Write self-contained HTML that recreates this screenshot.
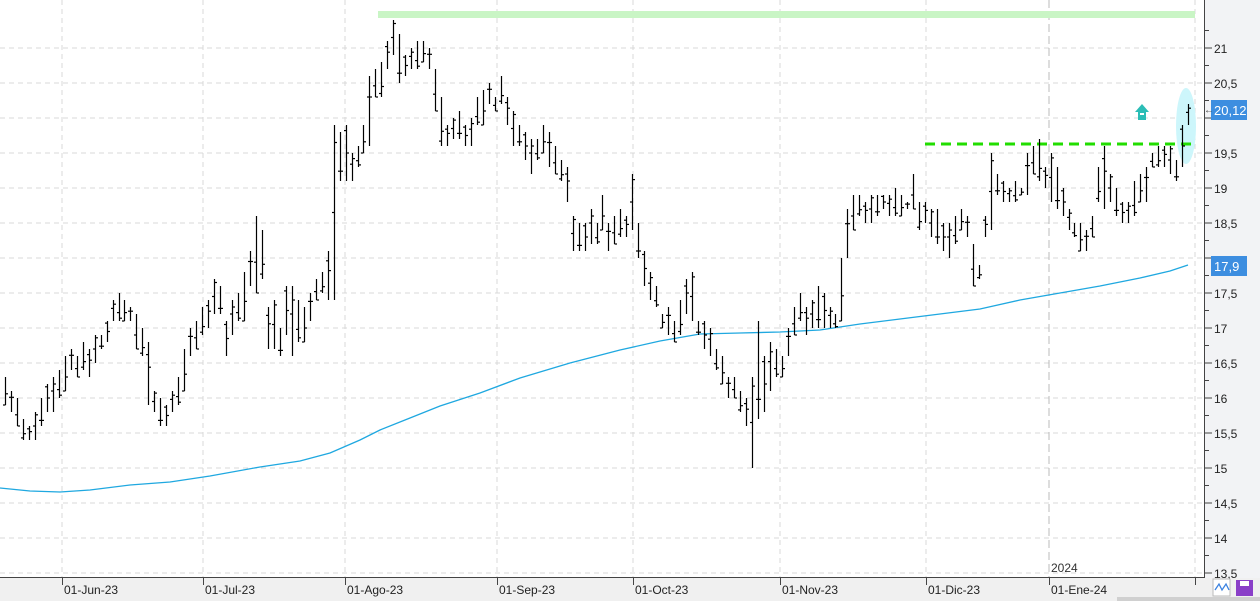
<!DOCTYPE html>
<html><head><meta charset="utf-8"><style>
html,body{margin:0;padding:0;background:#fff;}
svg{display:block;font-family:"Liberation Sans",sans-serif;}
</style></head><body>
<svg id="c" width="1260" height="601" xmlns="http://www.w3.org/2000/svg">
<rect x="0" y="0" width="1260" height="601" fill="#fff"/>
<rect x="1205" y="0" width="55" height="601" fill="#f2f3f5"/>
<rect x="0" y="578" width="1260" height="23" fill="#f0f0f0"/>
<rect x="1117" y="597" width="143" height="4" fill="#d0d0d0"/>
<g id="grid" stroke="#d8d8d8" stroke-dasharray="5,4" stroke-width="1"></g>
<line x1="1049" y1="0" x2="1049" y2="577" stroke="#bbb" stroke-dasharray="8,4"/>
<text x="1051" y="572" font-size="12" fill="#333">2024</text>
<rect x="378" y="11" width="817" height="7" fill="#c9f5c5"/>
<ellipse cx="1186" cy="126" rx="10" ry="38" fill="#cdf6fb"/>
<line x1="925" y1="144" x2="1195" y2="144" stroke="#22dd00" stroke-width="3" stroke-dasharray="10,6"/>
<polygon points="1142,104 1149,112 1146,112 1146,120 1138,120 1138,112 1135,112" fill="#2bbdb6"/>
<rect x="1140" y="113" width="4" height="2" fill="#fff"/>
<polyline fill="none" stroke="#1fa8e0" stroke-width="1.3" points="0,488 30,491 60,492 90,490 130,485 170,482 210,476 260,467 300,461 330,453 360,440 380,430 410,418 440,406 480,393 520,378 570,363 620,350 660,341 700,334 740,333 780,332 820,330 860,324 900,319 940,314 980,309 1020,300 1060,293 1100,286 1140,278 1170,271 1188,265"/>
<g id="bars" stroke="#000" stroke-width="1.2"></g>
<line x1="0" y1="577.5" x2="1205" y2="577.5" stroke="#444"/>
<line x1="1204.5" y1="0" x2="1204.5" y2="578" stroke="#444"/>
<g id="axis" font-size="12" fill="#222"></g>
<g id="xaxis" font-size="12" fill="#222"></g>
<rect x="1211" y="100" width="36" height="20" fill="#3d8ee0"/>
<text x="1214" y="115" font-size="13" fill="#fff">20,12</text>
<rect x="1211" y="256" width="36" height="20" fill="#3d8ee0"/>
<text x="1214" y="271" font-size="13" fill="#fff">17,9</text>
<text x="1204" y="113" font-size="10" fill="#444">&#8592;</text>
<rect x="1213" y="579" width="17" height="17" fill="#fff" stroke="#bbb"/>
<polyline points="1215,590 1219,584 1222,590 1226,584 1229,590" fill="none" stroke="#3b82e0" stroke-width="1.3"/>
<rect x="1236" y="580" width="17" height="16" fill="#8a3fc8"/>
<rect x="1240" y="581" width="9" height="5" fill="#fff"/>
</svg>
<script>
const NS="http://www.w3.org/2000/svg";
const Y=v=>48+(21-v)*70;
const g=document.getElementById('grid'),ax=document.getElementById('axis'),xa=document.getElementById('xaxis');
function el(p,t,a){const e=document.createElementNS(NS,t);for(const k in a)e.setAttribute(k,a[k]);p.appendChild(e);return e;}
for(let v=13.5;v<=21.01;v+=0.5){const y=Y(v);el(g,'line',{x1:0,y1:y,x2:1204,y2:y});
el(ax,'line',{x1:1204,y1:y,x2:1212,y2:y,stroke:'#444'});
const my=Y(v+0.25);if(v<21)el(ax,'line',{x1:1204,y1:my,x2:1209,y2:my,stroke:'#444'});
if(v!=20&&v!=18){const t=el(ax,'text',{x:1214,y:y+5});t.textContent=(v%1?v.toFixed(1):v.toFixed(0)).replace('.',',');}}
el(ax,'line',{x1:1204,y1:Y(21.25),x2:1209,y2:Y(21.25),stroke:'#444'});
const months=[[62,'01-Jun-23'],[203,'01-Jul-23'],[345,'01-Ago-23'],[497,'01-Sep-23'],[633,'01-Oct-23'],[780,'01-Nov-23'],[926,'01-Dic-23'],[1049,'01-Ene-24'],[1195,'']];
months.forEach(([x,l])=>{if(x!=1049)el(g,'line',{x1:x,y1:0,x2:x,y2:577});el(xa,'line',{x1:x+.5,y1:577,x2:x+.5,y2:585,stroke:'#444'});const t=el(xa,'text',{x:x+2,y:594});t.textContent=l;});
const d=[[16.3,15.9],[16.1,15.8],[16.0,15.6],[15.7,15.4],[15.6,15.4],[15.8,15.4],[16.0,15.6],[16.2,15.8],[16.3,15.8],[16.4,16.0],[16.6,16.1],[16.7,16.4],[16.6,16.3],[16.8,16.4],[16.7,16.3],[16.9,16.5],[16.9,16.7],[17.1,16.8],[17.4,17.1],[17.5,17.1],[17.4,17.1],[17.3,17.1],[17.2,16.7],[17.0,16.6],[16.8,15.9],[16.1,15.8],[16.0,15.6],[15.9,15.6],[16.1,15.8],[16.3,15.9],[16.7,16.1],[17.0,16.6],[17.1,16.7],[17.3,16.9],[17.4,17.0],[17.7,17.2],[17.6,17.2],[17.1,16.6],[17.4,16.9],[17.5,17.1],[17.8,17.1],[18.1,17.6],[18.6,17.5],[18.4,17.7],[17.3,16.7],[17.4,16.7],[17.0,16.6],[17.6,16.9],[17.6,16.6],[17.4,16.8],[17.3,16.8],[17.5,17.1],[17.7,17.4],[17.8,17.5],[18.1,17.4],[19.9,17.4],[19.8,19.1],[19.9,19.1],[19.5,19.1],[19.6,19.3],[19.9,19.5],[20.6,19.6],[20.7,20.3],[20.8,20.3],[21.1,20.7],[21.4,20.9],[21.2,20.5],[20.9,20.6],[21.0,20.7],[21.1,20.7],[21.1,20.8],[21.0,20.7],[20.7,20.1],[20.3,19.6],[19.9,19.6],[20.0,19.7],[20.1,19.7],[19.9,19.6],[20.0,19.6],[20.3,19.9],[20.4,19.9],[20.5,20.2],[20.3,20.1],[20.6,20.2],[20.3,19.9],[20.1,19.6],[19.9,19.6],[19.8,19.4],[19.7,19.2],[19.7,19.4],[19.9,19.5],[19.8,19.3],[19.6,19.2],[19.4,19.1],[19.3,18.8],[18.6,18.1],[18.5,18.1],[18.5,18.1],[18.7,18.2],[18.5,18.2],[18.9,18.4],[18.5,18.1],[18.6,18.2],[18.7,18.3],[18.6,18.3],[19.2,18.4],[18.5,18.0],[18.1,17.6],[17.8,17.4],[17.6,17.3],[17.2,17.0],[17.3,16.9],[17.1,16.8],[17.4,16.9],[17.7,17.2],[17.8,17.1],[17.1,16.9],[17.1,16.7],[17.0,16.6],[16.7,16.4],[16.6,16.2],[16.3,16.0],[16.3,16.0],[16.1,15.8],[16.0,15.6],[16.3,15.0],[17.1,15.7],[16.6,15.8],[16.8,16.1],[16.7,16.3],[16.6,16.3],[17.0,16.6],[17.3,16.9],[17.5,17.1],[17.3,16.9],[17.4,17.0],[17.6,17.0],[17.5,17.0],[17.3,17.0],[17.2,17.0],[18.0,17.1],[18.7,18.0],[18.9,18.4],[18.9,18.6],[18.8,18.5],[18.9,18.5],[18.9,18.6],[18.9,18.7],[18.9,18.6],[19.0,18.6],[18.9,18.6],[18.8,18.7],[19.2,18.7],[18.8,18.4],[18.8,18.5],[18.7,18.3],[18.7,18.2],[18.5,18.1],[18.5,18.0],[18.6,18.2],[18.7,18.4],[18.6,18.3],[18.2,17.6],[17.9,17.7],[18.6,18.3],[19.5,18.4],[19.2,18.9],[19.1,18.8],[19.0,18.8],[19.1,18.8],[19.0,18.9],[19.5,18.9],[19.6,19.2],[19.7,19.1],[19.3,19.0],[19.5,18.8],[19.3,18.7],[19.0,18.6],[18.7,18.4],[18.5,18.3],[18.5,18.1],[18.4,18.1],[18.6,18.3],[19.3,18.8],[19.6,18.7],[19.2,18.8],[19.0,18.6],[18.8,18.5],[18.8,18.5],[19.1,18.6],[19.2,18.8],[19.3,18.8],[19.5,19.3],[19.6,19.3],[19.6,19.3],[19.6,19.2],[19.4,19.1],[19.9,19.3],[20.2,19.9]];
const b=document.getElementById('bars');const n=d.length;
d.forEach(([h,l],i)=>{const x=Math.round(5+i*(1183/(n-1)))+.5;
el(b,'line',{x1:x,y1:Y(h),x2:x,y2:Y(l)});
const o=l+(h-l)*((i*7)%10/10),c=l+(h-l)*((i*3+4)%10/10);
el(b,'line',{x1:x-2.5,y1:Y(o),x2:x,y2:Y(o)});el(b,'line',{x1:x,y1:Y(c),x2:x+2.5,y2:Y(c)});});
</script>
</body></html>
